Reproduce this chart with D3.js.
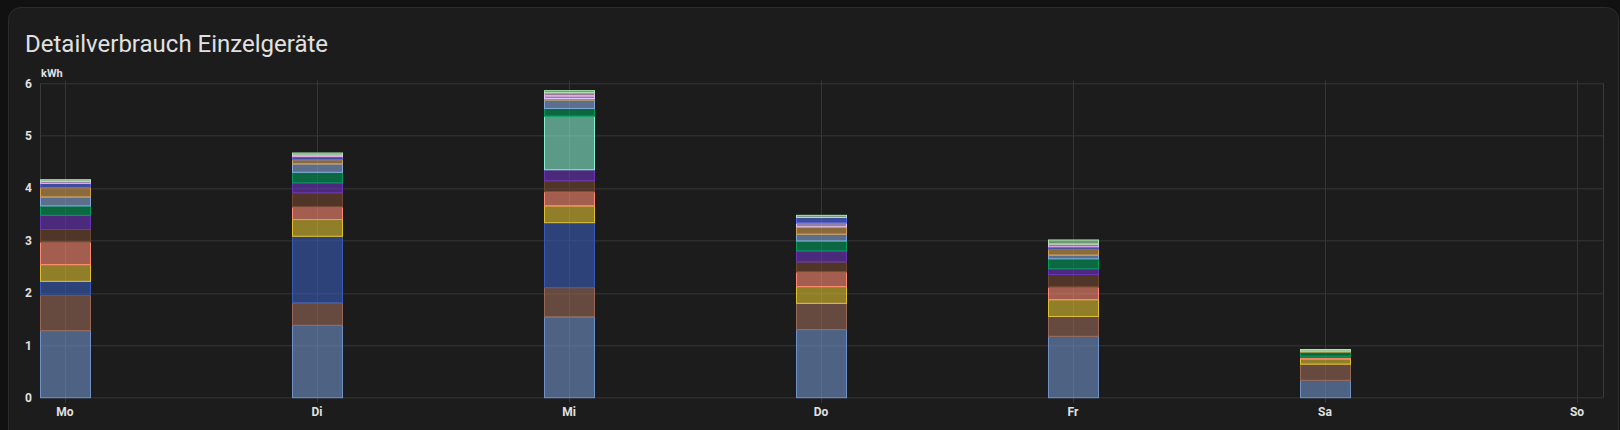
<!DOCTYPE html>
<html>
<head>
<meta charset="utf-8">
<script src="https://cdn.jsdelivr.net/npm/d3@7"></script>
<style>
  html, body { margin: 0; padding: 0; background: #111111; }
  svg { display: block; font-family: Roboto, "Noto Sans", sans-serif; }
</style>
</head>
<body>
<div id="vis"></div>
<script>
// weekdays and y ticks
const days = ["Mo", "Di", "Mi", "Do", "Fr", "Sa", "So"];
const yTicks = [0, 1, 2, 3, 4, 5, 6];

// kWh per device and day, bottom of the stack first
const geraet01 = [1.28, 1.38, 1.54, 1.30, 1.17, 0.33, 0];
const geraet02 = [0.67, 0.43, 0.56, 0.50, 0.38, 0.31, 0];
const geraet03 = [0.27, 1.27, 1.24, 0.00, 0.00, 0.00, 0];
const geraet04 = [0.32, 0.32, 0.32, 0.32, 0.32, 0.10, 0];
const geraet05 = [0.43, 0.24, 0.27, 0.28, 0.24, 0.03, 0];
const geraet06 = [0.24, 0.27, 0.21, 0.19, 0.24, 0.02, 0];
const geraet07 = [0.27, 0.19, 0.21, 0.21, 0.11, 0.00, 0];
const geraet08 = [0.00, 0.00, 1.02, 0.00, 0.00, 0.00, 0];
const geraet09 = [0.18, 0.20, 0.15, 0.19, 0.19, 0.08, 0];
const geraet10 = [0.17, 0.16, 0.16, 0.13, 0.07, 0.00, 0];
const geraet11 = [0.18, 0.08, 0.03, 0.14, 0.11, 0.02, 0];
const geraet12 = [0.00, 0.00, 0.05, 0.07, 0.00, 0.00, 0];
const geraet13 = [0.08, 0.06, 0.00, 0.11, 0.05, 0.00, 0];
const geraet14 = [0.04, 0.03, 0.06, 0.00, 0.05, 0.00, 0];
const geraet15 = [0.03, 0.04, 0.04, 0.04, 0.08, 0.03, 0];

const seriesValues = [geraet01, geraet02, geraet03, geraet04, geraet05,
    geraet06, geraet07, geraet08, geraet09, geraet10,
    geraet11, geraet12, geraet13, geraet14, geraet15];
const seriesColors = ["#7091c8", "#986957", "#395cb7", "#e0c030", "#ff8a73",
    "#714830", "#6b34bc", "#87eed0", "#029b5a", "#85a7d9",
    "#d49e4e", "#dec3ff", "#5a6af0", "#f0b0e8", "#a8e8b0"];

(function () {
    const W = 1620, H = 430;
    const margin = { top: 83.3, left: 40 };
    const width = 1563;
    const height = 314.4;
    const barWidth = 50;

    const root = d3.select("#vis").append("svg")
        .attr("width", W)
        .attr("height", H);

    // card
    root.append("rect")
        .attr("x", 8.5).attr("y", 7.5)
        .attr("width", 1610).attr("height", 450)
        .attr("rx", 12)
        .attr("fill", "#1c1c1c")
        .attr("stroke", "#2c2c2c");

    root.append("text")
        .attr("x", 25).attr("y", 52)
        .attr("fill", "#e1e1e1")
        .style("font-size", "24px")
        .text("Detailverbrauch Einzelgeräte");

    const svg = root.append("g")
        .attr("transform", `translate(${margin.left},${margin.top})`);

    const x = d3.scalePoint().domain(days).range([25, 1537]);
    const y = d3.scaleLinear().domain([0, 6]).range([height, 0]);

    const keys = seriesValues.map((_, i) => "g" + i);
    const rows = days.map((day, di) => {
        const row = { day };
        keys.forEach((k, i) => { row[k] = seriesValues[i][di]; });
        return row;
    });
    const stacked = d3.stack().keys(keys)(rows);

    // grid
    svg.append("g").selectAll("line")
        .data(yTicks)
        .enter().append("line")
        .attr("x1", 0).attr("x2", width)
        .attr("y1", d => Math.round(y(d)) + 0.5)
        .attr("y2", d => Math.round(y(d)) + 0.5)
        .attr("stroke", "#363636");

    svg.append("g").selectAll("line")
        .data(days)
        .enter().append("line")
        .attr("x1", d => Math.round(x(d)) + 0.5)
        .attr("x2", d => Math.round(x(d)) + 0.5)
        .attr("y1", -3).attr("y2", height + 5)
        .attr("stroke", "#363636");

    [0, width].forEach(px => {
        svg.append("line")
            .attr("x1", px + 0.5).attr("x2", px + 0.5)
            .attr("y1", 0).attr("y2", height)
            .attr("stroke", "#3a3a3a");
    });

    // y labels
    svg.append("g").selectAll("text")
        .data(yTicks)
        .enter().append("text")
        .attr("x", -8)
        .attr("y", d => y(d))
        .attr("dy", "0.36em")
        .attr("text-anchor", "end")
        .attr("fill", "#e1e1e1")
        .style("font-size", "12px")
        .style("font-weight", "bold")
        .text(d => d);

    svg.append("text")
        .attr("x", 1).attr("y", -6)
        .attr("fill", "#e1e1e1")
        .style("font-size", "11px")
        .style("font-weight", "bold")
        .text("kWh");

    // x labels
    svg.append("g").selectAll("text")
        .data(days)
        .enter().append("text")
        .attr("x", d => x(d))
        .attr("y", height + 18)
        .attr("text-anchor", "middle")
        .attr("fill", "#e1e1e1")
        .style("font-size", "12px")
        .style("font-weight", "bold")
        .text(d => d);

    // stacked bars
    stacked.forEach((layer, i) => {
        const color = seriesColors[i];
        svg.append("g").selectAll("rect")
            .data(layer.filter(d => d[1] - d[0] > 0))
            .enter().append("rect")
            .attr("x", d => x(d.data.day) - barWidth / 2 + 0.5)
            .attr("y", d => y(d[1]))
            .attr("width", barWidth)
            .attr("height", d => y(d[0]) - y(d[1]))
            .attr("fill", color)
            .attr("fill-opacity", 0.6)
            .attr("stroke", color)
            .attr("stroke-width", 1);
    });
})();
</script>
</body>
</html>
